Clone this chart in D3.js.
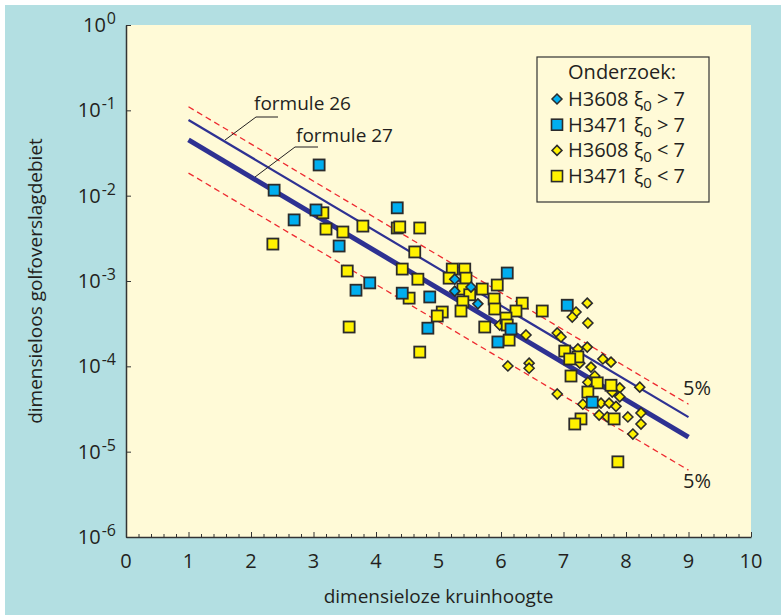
<!DOCTYPE html>
<html>
<head>
<meta charset="utf-8">
<script src="https://cdn.jsdelivr.net/npm/d3@7"></script>
<style>
  body { margin: 0; background: #fff; }
  svg text { font-family: "Open Sans", "Noto Sans", sans-serif; fill: #231f20; }
</style>
</head>
<body>
<div id="vis"></div>
<script>
// ==== DATA ====
// [dimensieloze kruinhoogte, dimensieloos golfoverslagdebiet]
const h3471Above = [ // H3471 xi0 > 7 (blue squares)
  [2.37, 1.16e-2], [2.69, 5.2e-3], [3.04, 6.8e-3], [3.09, 2.29e-2],
  [3.41, 2.57e-3], [3.68, 7.8e-4], [3.90, 9.5e-4], [4.34, 7.2e-3],
  [4.42, 7.2e-4], [4.86, 6.5e-4], [4.83, 2.8e-4], [5.95, 1.93e-4],
  [6.10, 1.24e-3], [6.16, 2.74e-4], [7.06, 5.2e-4], [7.46, 3.8e-5]
];
const h3608Above = [ // H3608 xi0 > 7 (blue diamonds)
  [5.26, 1.05e-3], [5.52, 8.5e-4], [5.26, 7.6e-4], [5.63, 5.4e-4]
];
const h3471Below = [ // H3471 xi0 < 7 (yellow squares)
  [2.35, 2.71e-3], [3.15, 6.3e-3], [3.20, 4.06e-3], [3.47, 3.75e-3],
  [3.79, 4.4e-3], [3.54, 1.31e-3], [3.57, 2.89e-4], [4.34, 4.18e-3],
  [4.38, 4.3e-3], [4.70, 4.18e-3], [4.62, 2.19e-3], [4.42, 1.38e-3],
  [4.67, 1.05e-3], [4.53, 6.3e-4], [4.70, 1.47e-4],
  [5.22, 1.38e-3], [5.42, 1.38e-3], [5.17, 1.08e-3], [5.44, 1.08e-3],
  [5.39, 8.05e-4], [5.70, 8.05e-4], [5.94, 8.97e-4], [5.50, 6.9e-4],
  [5.39, 5.7e-4], [5.36, 4.45e-4], [5.89, 6.15e-4], [5.90, 4.7e-4],
  [6.34, 5.5e-4], [6.24, 4.45e-4], [6.08, 3.68e-4], [6.10, 3.05e-4],
  [5.06, 4.33e-4], [4.98, 3.89e-4], [5.74, 2.89e-4], [6.13, 2.03e-4],
  [6.66, 4.45e-4],
  [7.02, 1.51e-4], [7.23, 1.29e-4], [7.10, 1.22e-4], [7.12, 7.7e-5],
  [7.54, 6.4e-5], [7.76, 6.0e-5], [7.39, 5.0e-5], [7.28, 2.42e-5],
  [7.18, 2.11e-5], [7.81, 2.42e-5], [7.87, 7.6e-6]
];
const h3608Below = [ // H3608 xi0 < 7 (yellow diamonds)
  [6.40, 2.33e-4], [6.11, 1.01e-4], [6.45, 1.09e-4], [6.45, 9.5e-5],
  [5.98, 3.05e-4], [7.38, 5.5e-4], [7.20, 4.33e-4], [7.14, 3.78e-4],
  [7.39, 3.22e-4], [6.90, 2.46e-4], [6.96, 2.21e-4], [7.38, 1.68e-4],
  [7.23, 1.6e-4], [7.26, 1.09e-4], [7.44, 9.8e-5], [7.63, 1.22e-4],
  [7.76, 1.12e-4], [7.50, 7.7e-5], [7.39, 6.5e-5], [7.90, 5.6e-5],
  [7.90, 4.4e-5], [7.78, 5.0e-5], [8.22, 5.7e-5], [6.90, 4.74e-5],
  [7.31, 3.6e-5], [7.60, 3.7e-5], [7.73, 3.7e-5], [7.84, 3.4e-5],
  [7.57, 2.69e-5], [7.70, 2.55e-5], [8.03, 2.55e-5], [8.24, 2.84e-5],
  [8.24, 2.11e-5], [8.11, 1.61e-5]
];

// lines (start and end point)
const formule26 = [[1, 0.077], [9, 2.54e-5]];
const formule27 = [[1, 0.045], [9, 1.48e-5]];
const band5Upper = [[1, 0.11], [9, 3.6e-5]];
const band5Lower = [[1, 0.0184], [9, 6.07e-6]];

const xTicks = [0, 1, 2, 3, 4, 5, 6, 7, 8, 9, 10];
const yExponents = [0, -1, -2, -3, -4, -5, -6];

// ==== SETUP ====
const width = 781, height = 615;
const svg = d3.select("#vis")
  .append("svg")
  .attr("width", width)
  .attr("height", height);

const x = d3.scaleLinear().domain([0, 10]).range([126, 751]);
const y = d3.scaleLog().domain([1e-6, 1]).range([537, 25]);

const blue = "#00aeef", yellow = "#fff200", edge = "#2b2b2b";

// backgrounds
svg.append("rect").attr("x", 5).attr("y", 5)
  .attr("width", width - 5).attr("height", height - 5)
  .attr("fill", "#b3dfe2");
svg.append("rect").attr("x", x(0)).attr("y", y(1))
  .attr("width", x(10) - x(0)).attr("height", y(1e-6) - y(1))
  .attr("fill", "#fffad7");

// ==== AXES ====
const xMinor = d3.range(0, 10.01, 0.2).filter(d => Math.abs(d - Math.round(d)) > 0.01);
svg.append("g")
  .attr("transform", `translate(0,${y(1e-6)})`)
  .call(d3.axisBottom(x).tickValues(xMinor).tickSize(-3).tickFormat(""))
  .call(g => g.select(".domain").remove())
  .selectAll("line").attr("stroke", "#333");
svg.append("g")
  .attr("transform", `translate(0,${y(1e-6)})`)
  .call(d3.axisBottom(x).tickValues(xTicks).tickSize(-5).tickSizeOuter(0).tickFormat(""))
  .call(g => g.select(".domain").attr("stroke", "#333").attr("stroke-width", 1.5))
  .selectAll("line").attr("stroke", "#333");

svg.append("g")
  .attr("transform", `translate(${x(0)},0)`)
  .call(d3.axisLeft(y).tickValues(yExponents.map(e => Math.pow(10, e))).tickSize(-5).tickSizeOuter(0).tickFormat(""))
  .call(g => g.select(".domain").attr("stroke", "#333").attr("stroke-width", 1.5))
  .selectAll("line").attr("stroke", "#333");

// x tick labels
svg.selectAll(".xlab")
  .data(xTicks)
  .enter()
  .append("text")
  .attr("x", d => x(d))
  .attr("y", 568)
  .attr("text-anchor", "middle")
  .style("font-size", "20px")
  .text(d => d);

// y tick labels: 10 with superscript exponent
const ylab = svg.selectAll(".ylab")
  .data(yExponents)
  .enter()
  .append("text")
  .attr("x", 116)
  .attr("y", d => y(Math.pow(10, d)) + 7)
  .attr("text-anchor", "end")
  .style("font-size", "20px");
ylab.append("tspan").text("10");
ylab.append("tspan")
  .attr("dy", -8)
  .attr("dx", 1)
  .style("font-size", "16px")
  .text(d => d === 0 ? "0" : "-" + Math.abs(d));

// axis titles
svg.append("text")
  .attr("x", x(5))
  .attr("y", 603)
  .attr("text-anchor", "middle")
  .style("font-size", "19px")
  .text("dimensieloze kruinhoogte");

svg.append("text")
  .attr("transform", `translate(42,${(y(1) + y(1e-6)) / 2}) rotate(-90)`)
  .attr("text-anchor", "middle")
  .style("font-size", "19px")
  .text("dimensieloos golfoverslagdebiet");

// ==== LINES ====
const line = d3.line().x(d => x(d[0])).y(d => y(d[1]));

[band5Upper, band5Lower].forEach(b => {
  svg.append("path").datum(b)
    .attr("d", line)
    .attr("fill", "none")
    .attr("stroke", "#ee2a30")
    .attr("stroke-width", 1.3)
    .attr("stroke-dasharray", "6,4");
});
svg.append("path").datum(formule26)
  .attr("d", line).attr("fill", "none")
  .attr("stroke", "#2e3192").attr("stroke-width", 2.2);
svg.append("path").datum(formule27)
  .attr("d", line).attr("fill", "none")
  .attr("stroke", "#2e3192").attr("stroke-width", 5);

// leaders + labels
svg.append("path")
  .attr("d", "M225,140L256,117L278,117")
  .attr("fill", "none").attr("stroke", "#231f20").attr("stroke-width", 1);
svg.append("text").attr("x", 254).attr("y", 110)
  .style("font-size", "19px").text("formule 26");
svg.append("path")
  .attr("d", "M255,177L295,147L318,147")
  .attr("fill", "none").attr("stroke", "#231f20").attr("stroke-width", 1);
svg.append("text").attr("x", 296).attr("y", 142)
  .style("font-size", "19px").text("formule 27");

svg.append("text").attr("x", 711).attr("y", 395)
  .attr("text-anchor", "end").style("font-size", "20px").text("5%");
svg.append("text").attr("x", 711).attr("y", 488)
  .attr("text-anchor", "end").style("font-size", "20px").text("5%");

// ==== POINTS ====
const sq = 11, dm = 5;
function squares(data, fill) {
  svg.append("g").selectAll("rect")
    .data(data)
    .enter()
    .append("rect")
    .attr("x", d => x(d[0]) - sq / 2)
    .attr("y", d => y(d[1]) - sq / 2)
    .attr("width", sq).attr("height", sq)
    .attr("fill", fill)
    .attr("stroke", edge)
    .attr("stroke-width", 1.8);
}
function diamonds(data, fill) {
  svg.append("g").selectAll("path")
    .data(data)
    .enter()
    .append("path")
    .attr("d", d => {
      const cx = x(d[0]), cy = y(d[1]);
      return `M${cx},${cy - dm}L${cx + dm},${cy}L${cx},${cy + dm}L${cx - dm},${cy}Z`;
    })
    .attr("fill", fill)
    .attr("stroke", edge)
    .attr("stroke-width", 1.6);
}
diamonds(h3608Below, yellow);
squares(h3471Below, yellow);
squares(h3471Above, blue);
diamonds(h3608Above, blue);

// ==== LEGEND ====
const lg = svg.append("g");
lg.append("rect").attr("x", 537).attr("y", 57)
  .attr("width", 172).attr("height", 145)
  .attr("fill", "#fffad7").attr("stroke", "#333").attr("stroke-width", 1.2);
lg.append("text").attr("x", 622).attr("y", 79)
  .attr("text-anchor", "middle").style("font-size", "20px").text("Onderzoek:");

const legendItems = [
  {name: "H3608", sign: ">", shape: "diamond", fill: blue},
  {name: "H3471", sign: ">", shape: "square", fill: blue},
  {name: "H3608", sign: "<", shape: "diamond", fill: yellow},
  {name: "H3471", sign: "<", shape: "square", fill: yellow}
];
legendItems.forEach((it, i) => {
  const cy = 99 + i * 25.7;
  if (it.shape === "square") {
    lg.append("rect").attr("x", 557 - 5.5).attr("y", cy - 5.5)
      .attr("width", 11).attr("height", 11)
      .attr("fill", it.fill).attr("stroke", edge).attr("stroke-width", 1.6);
  } else {
    lg.append("path")
      .attr("d", `M557,${cy - 5}L562,${cy}L557,${cy + 5}L552,${cy}Z`)
      .attr("fill", it.fill).attr("stroke", edge).attr("stroke-width", 1.5);
  }
  const t = lg.append("text").attr("x", 568).attr("y", cy + 7)
    .style("font-size", "20px");
  t.append("tspan").text(it.name + " \u03be");
  t.append("tspan").attr("dy", 5).style("font-size", "15px").text("0");
  t.append("tspan").attr("dy", -5).text(" " + it.sign + " 7");
});
</script>
</body>
</html>
